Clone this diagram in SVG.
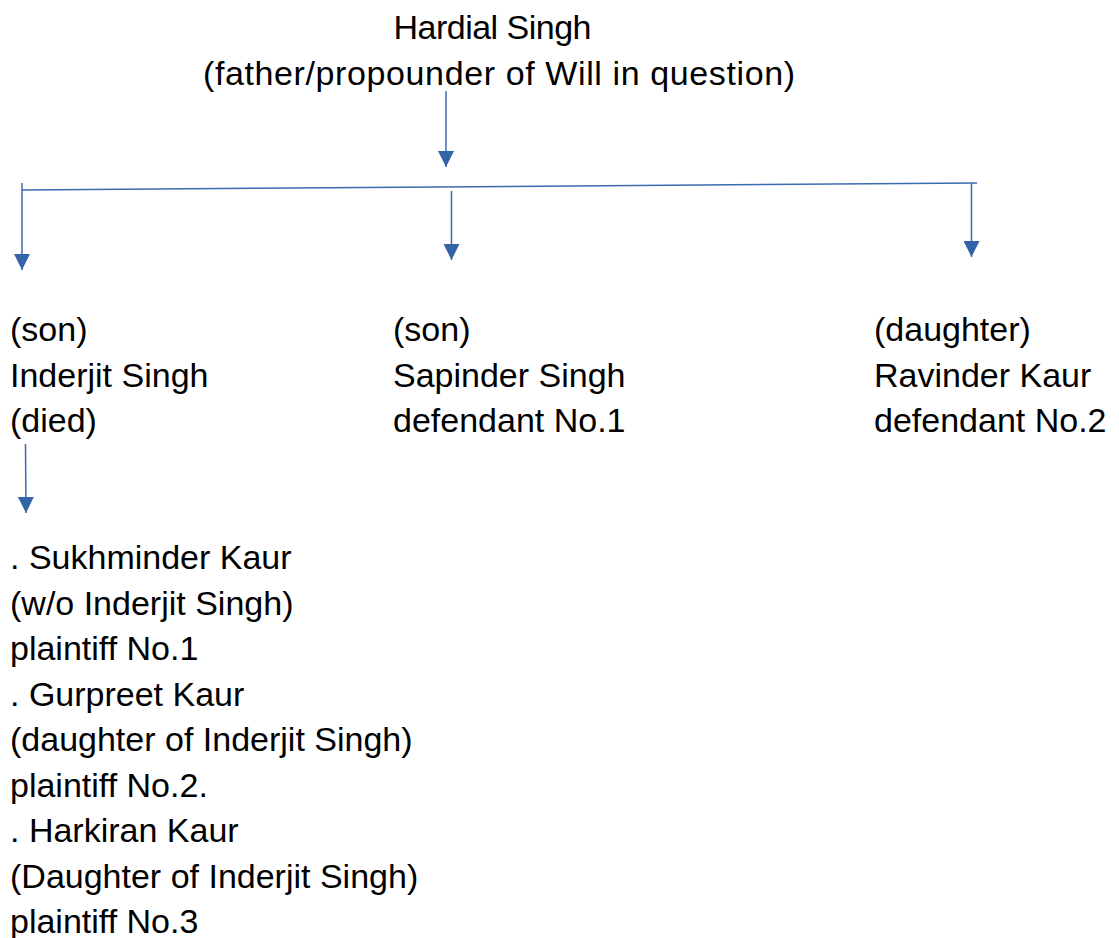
<svg xmlns="http://www.w3.org/2000/svg" width="1119" height="938" viewBox="0 0 1119 938">
<style>
text{font-family:"Liberation Sans",Arial,sans-serif;font-size:34px;fill:#000}
.c{stroke:#3B6BB0;stroke-width:1.5;fill:none}
.a{marker-end:url(#ah)}
</style>
<defs>
<marker id="ah" markerUnits="userSpaceOnUse" markerWidth="16" markerHeight="16" refX="15" refY="7.5" orient="auto" viewBox="0 0 15 15">
<path d="M0,0 L15,7.5 L0,15 z" fill="#3464A8"/>
</marker>
</defs>
<rect width="1119" height="938" fill="#fff"/>
<g id="connectors">
<line class="c a" x1="446" y1="91" x2="446" y2="167"/>
<line class="c" x1="22" y1="190" x2="977" y2="183"/>
<line class="c a" x1="22" y1="183" x2="22" y2="270"/>
<line class="c a" x1="451.5" y1="191" x2="451.5" y2="260"/>
<line class="c a" x1="971.5" y1="183" x2="971.5" y2="257"/>
<line class="c a" x1="25.5" y1="444" x2="26" y2="513"/>
</g>
<g id="hardial">
<text x="492.5" y="39" text-anchor="middle" textLength="198" lengthAdjust="spacing">Hardial Singh</text>
<text x="499" y="84.5" text-anchor="middle" textLength="592" lengthAdjust="spacing">(father/propounder of Will in question)</text>
</g>
<g id="inderjit">
<text x="10" y="341">(son)</text>
<text x="10" y="386.5">Inderjit Singh</text>
<text x="10" y="432">(died)</text>
</g>
<g id="sapinder">
<text x="393" y="341">(son)</text>
<text x="393" y="386.5">Sapinder Singh</text>
<text x="393" y="432">defendant No.1</text>
</g>
<g id="ravinder">
<text x="874" y="341">(daughter)</text>
<text x="874" y="386.5">Ravinder Kaur</text>
<text x="874" y="432">defendant No.2</text>
</g>
<g id="heirs">
<text x="10" y="569">. Sukhminder Kaur</text>
<text x="10" y="614.5">(w/o Inderjit Singh)</text>
<text x="10" y="660">plaintiff No.1</text>
<text x="10" y="705.5">. Gurpreet Kaur</text>
<text x="10" y="751">(daughter of Inderjit Singh)</text>
<text x="10" y="796.5">plaintiff No.2.</text>
<text x="10" y="842">. Harkiran Kaur</text>
<text x="10" y="887.5">(Daughter of Inderjit Singh)</text>
<text x="10" y="933">plaintiff No.3</text>
</g>
</svg>
